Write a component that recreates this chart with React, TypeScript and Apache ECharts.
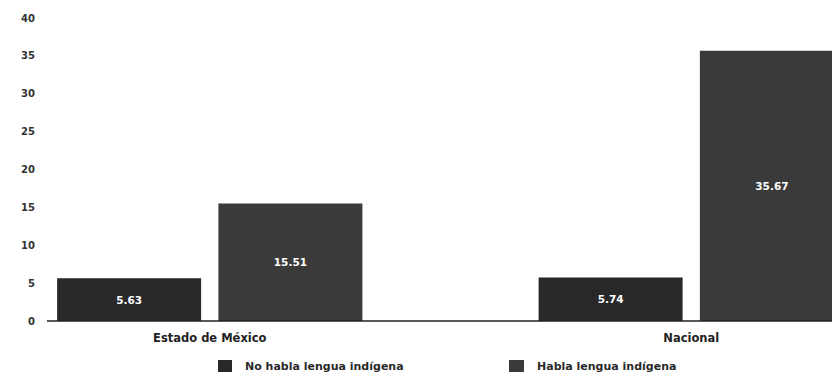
import React, { useEffect, useRef } from "react";
import * as echarts from "echarts";

const categories = ["Estado de México", "Nacional"];
const noHabla = [5.63, 5.74];
const habla = [15.51, 35.67];
const seriesNames = ["No habla lengua indígena", "Habla lengua indígena"];

export default function App() {
  const ref = useRef<HTMLDivElement>(null);
  useEffect(() => {
    if (!ref.current) return;
    const chart = echarts.init(ref.current, null, { renderer: "svg" });
    const font = "DejaVu Sans, sans-serif";
    const labelStyle = {
      show: true,
      position: "inside",
      color: "#ffffff",
      fontSize: 10.5,
      fontWeight: "bold",
      fontFamily: font,
      formatter: (p: any) => p.value.toFixed(2),
    };
    const legendText = {
      fontSize: 11,
      fontWeight: "bold",
      color: "#2a2a2a",
      fontFamily: font,
      padding: [0, 0, 0, 8],
    };
    chart.setOption({
      animation: false,
      backgroundColor: "#ffffff",
      grid: { left: -31, right: -100, top: 18, bottom: 58, outerBoundsMode: "none", containLabel: false },
      legend: [
        {
          data: [seriesNames[0]],
          left: 218,
          top: 360,
          padding: 0,
          itemWidth: 14,
          itemHeight: 12,
          itemGap: 0,
          icon: "rect",
          textStyle: legendText,
        },
        {
          data: [seriesNames[1]],
          left: 509,
          top: 360,
          padding: 0,
          itemWidth: 15,
          itemHeight: 12,
          itemGap: 0,
          icon: "rect",
          textStyle: legendText,
        },
      ],
      xAxis: {
        type: "category",
        data: categories,
        axisLine: { show: false },
        axisTick: { show: false },
        axisLabel: {
          margin: 11,
          fontSize: 11.5,
          fontWeight: "bold",
          color: "#222",
          fontFamily: font,
        },
      },
      yAxis: {
        type: "value",
        min: 0,
        max: 40,
        interval: 5,
        offset: -79,
        axisLine: { show: false },
        axisTick: { show: false },
        splitLine: { show: false },
        axisLabel: {
          margin: 13,
          fontSize: 10,
          fontWeight: "bold",
          color: "#333",
          fontFamily: font,
        },
      },
      series: [
        {
          name: seriesNames[0],
          type: "bar",
          data: noHabla,
          barWidth: 144,
          barGap: "12%",
          itemStyle: { color: "#282828" },
          label: labelStyle,
        },
        {
          name: seriesNames[1],
          type: "bar",
          data: habla,
          barWidth: 144,
          itemStyle: { color: "#3a3a3a" },
          label: labelStyle,
        },
      ],
    });
    const y0 = chart.convertToPixel({ yAxisIndex: 0 }, 0) as number;
    chart.setOption({
      graphic: [
        {
          type: "line",
          shape: { x1: 47, y1: y0, x2: 832, y2: y0 },
          style: { stroke: "#222", lineWidth: 1.5 },
          z: 10,
        },
      ],
    });
    return () => chart.dispose();
  }, []);
  return (
    <div
      ref={ref}
      style={{ position: "absolute", left: 0, top: 0, width: 832, height: 379 }}
    />
  );
}
